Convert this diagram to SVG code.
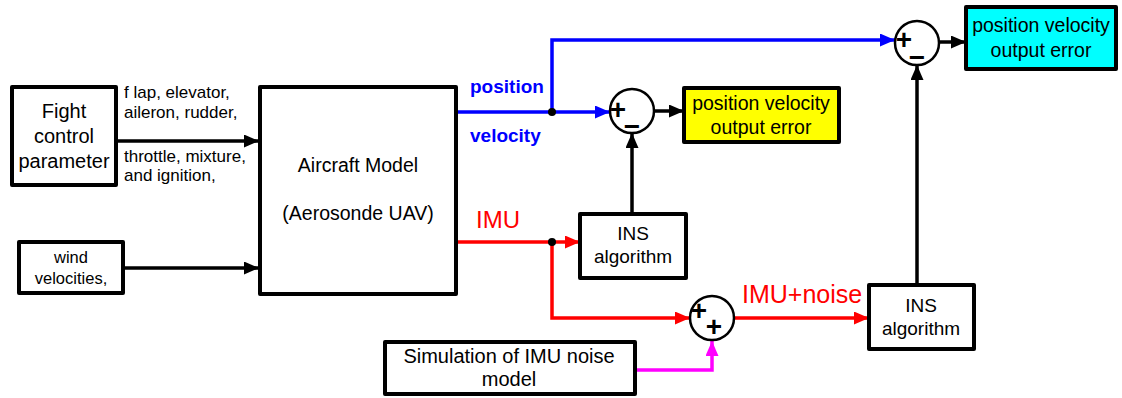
<svg xmlns="http://www.w3.org/2000/svg" width="1122" height="398" viewBox="0 0 1122 398">
<style>
text{font-family:"Liberation Sans",Arial,sans-serif;fill:#000}
.box{fill:#fff;stroke:#000;stroke-width:4;stroke-linejoin:round}
.sum{fill:#fff;stroke:#000;stroke-width:2.5}
.sign{font-size:28px;font-weight:bold;text-anchor:middle}
.c{text-anchor:middle}
.ln{fill:none;stroke-width:3.5}
.k{stroke:#000}.b{stroke:#0000ff}.r{stroke:#ff0000}.m{stroke:#ff00ff}
</style>
<defs>
<marker id="ak" markerUnits="userSpaceOnUse" markerWidth="15" markerHeight="13" refX="15" refY="6.5" orient="auto"><path d="M0,0 L15,6.5 L0,13 z" fill="#000"/></marker>
<marker id="ab" markerUnits="userSpaceOnUse" markerWidth="15" markerHeight="13" refX="15" refY="6.5" orient="auto"><path d="M0,0 L15,6.5 L0,13 z" fill="#0000ff"/></marker>
<marker id="ar" markerUnits="userSpaceOnUse" markerWidth="15" markerHeight="13" refX="15" refY="6.5" orient="auto"><path d="M0,0 L15,6.5 L0,13 z" fill="#ff0000"/></marker>
<marker id="am" markerUnits="userSpaceOnUse" markerWidth="15" markerHeight="13" refX="15" refY="6.5" orient="auto"><path d="M0,0 L15,6.5 L0,13 z" fill="#ff00ff"/></marker>
</defs>
<rect width="1122" height="398" fill="#fff"/>

<g id="connectors">
<path class="ln k" d="M118,141 H259" marker-end="url(#ak)"/>
<path class="ln k" d="M125,268 H259" marker-end="url(#ak)"/>
<path class="ln b" d="M458,112 H610" marker-end="url(#ab)"/>
<path class="ln b" d="M552,112 V40 H895" marker-end="url(#ab)"/>
<path class="ln k" d="M655,111 H684" marker-end="url(#ak)"/>
<path class="ln k" d="M940,42 H966" marker-end="url(#ak)"/>
<path class="ln k" d="M632,213 V133" marker-end="url(#ak)"/>
<path class="ln k" d="M917,284 V65" marker-end="url(#ak)"/>
<path class="ln r" d="M458,242 H580" marker-end="url(#ar)"/>
<path class="ln r" d="M552,242 V318 H690" marker-end="url(#ar)"/>
<path class="ln r" d="M734,318 H869" marker-end="url(#ar)"/>
<path class="ln m" d="M637,370 H712 V341" marker-end="url(#am)"/>
<circle cx="552" cy="112" r="4" fill="#000"/>
<circle cx="552" cy="242" r="4" fill="#000"/>
<text x="124" y="98" font-size="17">f lap, elevator,</text>
<text x="124" y="118" font-size="17">aileron, rudder,</text>
<text x="124" y="162" font-size="17">throttle, mixture,</text>
<text x="124" y="181" font-size="17">and ignition,</text>
<text x="470" y="93" font-size="19" font-weight="bold" style="fill:#0000ff">position</text>
<text x="470" y="142" font-size="19" font-weight="bold" style="fill:#0000ff">velocity</text>
<text x="476" y="228" font-size="24" style="fill:#ff0000">IMU</text>
<text x="742" y="303" font-size="25" style="fill:#ff0000">IMU+noise</text>
</g>

<g id="fight-control">
<rect class="box" x="12" y="87" width="104" height="98"/>
<text class="c" x="64" y="118" font-size="20">Fight</text>
<text class="c" x="64" y="143" font-size="20">control</text>
<text class="c" x="64" y="168" font-size="20">parameter</text>
</g>

<g id="wind">
<rect class="box" x="19" y="242" width="104" height="51"/>
<text class="c" x="71" y="263" font-size="16.5">wind</text>
<text class="c" x="71" y="284" font-size="16.5">velocities,</text>
</g>

<g id="aircraft">
<rect class="box" x="260" y="87" width="196" height="207"/>
<text class="c" x="358" y="172" font-size="19.5">Aircraft Model</text>
<text class="c" x="358" y="220" font-size="19.5">(Aerosonde UAV)</text>
</g>

<g id="sum1">
<circle class="sum" cx="632" cy="111" r="22"/>
<text class="sign" x="618" y="119">+</text>
<text class="sign" x="632" y="136">−</text>
</g>

<g id="error1">
<rect x="684" y="88" width="155" height="54" fill="#ffff00" stroke="#000" stroke-width="4" stroke-linejoin="round"/>
<text class="c" x="761" y="110" font-size="19.5">position velocity</text>
<text class="c" x="761" y="134" font-size="19.5">output error</text>
</g>

<g id="sum2">
<circle class="sum" cx="917" cy="43" r="22"/>
<text class="sign" x="904" y="49">+</text>
<text class="sign" x="917" y="67">−</text>
</g>

<g id="error2">
<rect x="966" y="7" width="150" height="62" fill="#00ffff" stroke="#000" stroke-width="4" stroke-linejoin="round"/>
<text class="c" x="1041" y="32" font-size="19.5">position velocity</text>
<text class="c" x="1041" y="57" font-size="19.5">output error</text>
</g>

<g id="ins1">
<rect class="box" x="580" y="214" width="106" height="64"/>
<text class="c" x="633" y="240" font-size="19">INS</text>
<text class="c" x="633" y="263" font-size="19">algorithm</text>
</g>

<g id="sum3">
<circle class="sum" cx="712" cy="318" r="22"/>
<text class="sign" x="699" y="320" font-size="24">+</text>
<text class="sign" x="714" y="336" font-size="24">+</text>
</g>

<g id="ins2">
<rect class="box" x="869" y="285" width="105" height="64"/>
<text class="c" x="921" y="312" font-size="19">INS</text>
<text class="c" x="921" y="335" font-size="19">algorithm</text>
</g>

<g id="noise-model">
<rect class="box" x="385" y="342" width="250" height="52"/>
<text class="c" x="509" y="363" font-size="20">Simulation of IMU noise</text>
<text class="c" x="509" y="386" font-size="20">model</text>
</g>
</svg>
